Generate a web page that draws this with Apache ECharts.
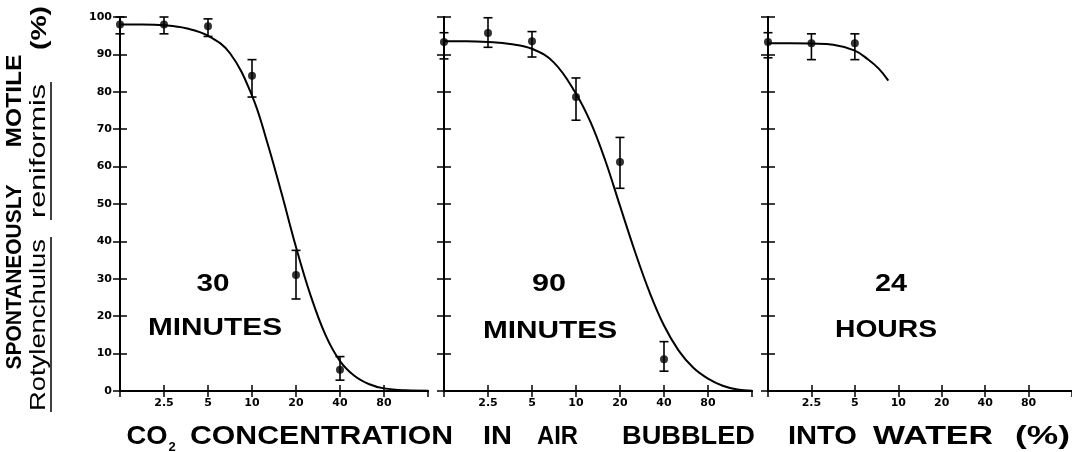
<!DOCTYPE html>
<html>
<head>
<meta charset="utf-8">
<script src="https://cdn.jsdelivr.net/npm/echarts@6/dist/echarts.min.js"></script>
<style>html,body{margin:0;padding:0;background:#fff}#c{width:1072px;height:452px}</style>
</head>
<body>
<div id="c"></div>
<script>
// ---- data (CO2 concentration %, motile %) ----
const tickValues = [2.5, 5, 10, 20, 40, 80];
const tickLabels = ['2.5', '5', '10', '20', '40', '80'];
const yTicks = [0, 10, 20, 30, 40, 50, 60, 70, 80, 90, 100];
const panelLabels = [['30', 'MINUTES'], ['90', 'MINUTES'], ['24', 'HOURS']];

// 30 minutes
const conc30 = [1.25, 2.5, 5, 10, 20, 40];
const mean30 = [98, 98, 97.5, 84.3, 31, 5.7];
const low30  = [95.5, 95.5, 94.8, 78.6, 24.6, 2.9];
const high30 = [100, 100, 99.5, 88.6, 37.6, 9.2];
const fitX30 = [1.25, 1.77, 2.5, 3.54, 5, 7.07, 10, 12.6, 15.9, 20, 25.2, 31.8, 40, 50.4, 63.5, 80, 113, 160];
const fitY30 = [98, 98, 97.8, 97, 95, 90.3, 79, 67, 53, 38.5, 25.5, 15, 8, 4, 1.8, 0.7, 0.2, 0.1];

// 90 minutes
const conc90 = [1.25, 2.5, 5, 10, 20, 40];
const mean90 = [93.3, 95.7, 93.5, 78.6, 61.2, 8.5];
const low90  = [88.8, 91.9, 89.3, 72.4, 54.2, 5.3];
const high90 = [95.8, 99.8, 96.1, 83.7, 67.8, 13.2];
const fitX90 = [1.25, 1.77, 2.5, 3.54, 5, 7.07, 10, 12.6, 15.9, 20, 25.2, 31.8, 40, 50.4, 63.5, 80, 100.8, 127, 160];
const fitY90 = [93.5, 93.5, 93.3, 92.8, 91.5, 87.8, 79.5, 71.8, 61.5, 49.5, 37.5, 26.5, 17.5, 10.8, 6.2, 3.3, 1.4, 0.4, 0.1];

// 24 hours
const conc24 = [1.25, 2.5, 5];
const mean24 = [93.3, 93, 93];
const low24  = [89.1, 88.6, 88.6];
const high24 = [95.8, 95.5, 95.5];
const fitX24 = [1.25, 1.77, 2.5, 3.54, 5, 6.15, 7.32, 8.53];
const fitY24 = [93, 93, 92.9, 92.6, 91, 88.7, 86.2, 83];

// ---- build ----
const BASE = 1.25;
const toU = c => Math.log2(c / BASE);
const panels = [
  {conc: conc30, mean: mean30, low: low30, high: high30, fx: fitX30, fy: fitY30},
  {conc: conc90, mean: mean90, low: low90, high: high90, fx: fitX90, fy: fitY90},
  {conc: conc24, mean: mean24, low: low24, high: high24, fx: fitX24, fy: fitY24}
];
const lefts = [120, 444, 768];
const TOP = 17, H = 374, W = 308;
const F = '"Liberation Sans", Arial, sans-serif';
const FL = '"DejaVu Sans", sans-serif';

const tickU = tickValues.map(toU);
function xLabel(v) {
  for (let i = 0; i < tickU.length; i++) if (Math.abs(tickU[i] - v) < 1e-6) return tickLabels[i];
  return '';
}

const grids = [], xAxes = [], yAxes = [], series = [];
lefts.forEach((l, i) => {
  grids.push({left: l, top: TOP, width: W, height: H});
  const xBase = {type: 'value', gridIndex: i, min: 0, max: toU(160), interval: 1,
    axisLine: {show: true, lineStyle: {color: '#000', width: 2}},
    axisTick: {show: true, inside: true, length: 6, lineStyle: {color: '#000', width: 1.5}},
    splitLine: {show: false}};
  xAxes.push(Object.assign({}, xBase, {position: 'bottom',
    axisLabel: {formatter: xLabel, color: '#000', fontSize: 11, fontWeight: 'bold', fontFamily: FL, margin: 7,
      showMinLabel: false, showMaxLabel: false}}));
  xAxes.push(Object.assign({}, xBase, {position: 'top', axisLabel: {show: false}}));
  const yBase = {type: 'value', gridIndex: i, min: 0, max: 100, interval: 10,
    axisLine: {show: true, lineStyle: {color: '#000', width: 2}},
    axisTick: {show: true, inside: true, length: 7, lineStyle: {color: '#000', width: 1.5}},
    splitLine: {show: false}};
  yAxes.push(Object.assign({}, yBase, {position: 'left',
    axisLabel: {show: i === 0, color: '#000', fontSize: 11, fontWeight: 'bold', fontFamily: FL, margin: 8,
      formatter: v => yTicks.includes(v) ? String(v) : ''}}));
  yAxes.push(Object.assign({}, yBase, {position: 'right', axisLabel: {show: false}}));

  const p = panels[i];
  series.push({type: 'line', xAxisIndex: 2 * i, yAxisIndex: 2 * i, smooth: 0.4, symbol: 'none',
    lineStyle: {color: '#000', width: 2}, clip: false,
    data: p.fx.map((c, k) => [toU(c), p.fy[k]])});
  series.push({type: 'custom', xAxisIndex: 2 * i, yAxisIndex: 2 * i, clip: false,
    data: p.conc.map((c, k) => [toU(c), p.low[k], p.high[k]]),
    encode: {x: 0, y: [1, 2]},
    renderItem: (params, api) => {
      const a = api.coord([api.value(0), api.value(1)]);
      const b = api.coord([api.value(0), api.value(2)]);
      const hw = 4.5, st = {stroke: '#000', lineWidth: 1.6};
      return {type: 'group', children: [
        {type: 'line', shape: {x1: a[0], y1: a[1], x2: b[0], y2: b[1]}, style: st},
        {type: 'line', shape: {x1: a[0] - hw, y1: a[1], x2: a[0] + hw, y2: a[1]}, style: st},
        {type: 'line', shape: {x1: b[0] - hw, y1: b[1], x2: b[0] + hw, y2: b[1]}, style: st}
      ]};
    }});
  series.push({type: 'scatter', xAxisIndex: 2 * i, yAxisIndex: 2 * i, symbol: 'circle', symbolSize: 8,
    itemStyle: {color: '#000'}, clip: false, z: 5,
    data: p.conc.map((c, k) => [toU(c), p.mean[k]])});
});

// text helpers
const mctx = document.createElement('canvas').getContext('2d');
function fitText(text, cx, cy, targetW, size, weight, family, rot) {
  mctx.font = `${weight} ${size}px ${family}`;
  const w = mctx.measureText(text).width;
  return {type: 'text', x: cx, y: cy, rotation: rot || 0, scaleX: targetW / w,
    style: {text: text, fill: '#000', fontSize: size, fontWeight: weight, fontFamily: family,
      align: 'center', verticalAlign: 'middle'}};
}
const R = Math.PI / 2;
const graphics = [
  // panel labels
  fitText(panelLabels[0][0], 213, 284, 33, 24, 'bold', F),
  fitText(panelLabels[0][1], 215, 328, 134, 24, 'bold', F),
  fitText(panelLabels[1][0], 549, 284, 34, 24, 'bold', F),
  fitText(panelLabels[1][1], 550, 331, 134, 24, 'bold', F),
  fitText(panelLabels[2][0], 891, 284, 32, 24, 'bold', F),
  fitText(panelLabels[2][1], 886, 330, 102, 24, 'bold', F),
  // x title
  fitText('CO', 147, 437, 41, 25, 'bold', F),
  {type: 'text', x: 172, y: 447, style: {text: '2', fill: '#000', fontSize: 13, fontWeight: 'bold', fontFamily: F, align: 'center', verticalAlign: 'middle'}},
  fitText('CONCENTRATION', 321.5, 437, 263, 25, 'bold', F),
  fitText('IN', 497.5, 437, 29, 25, 'bold', F),
  fitText('AIR', 557.5, 437, 41, 25, 'bold', F),
  fitText('BUBBLED', 688.5, 437, 133, 25, 'bold', F),
  fitText('INTO', 822.5, 437, 69, 25, 'bold', F),
  fitText('WATER', 933, 437, 120, 25, 'bold', F),
  fitText('(%)', 1042.5, 437, 55, 25, 'bold', F),
  // y title
  fitText('SPONTANEOUSLY', 15, 277, 185, 22, 'bold', F, R),
  fitText('MOTILE', 15, 101, 93, 22, 'bold', F, R),
  fitText('Rotylenchulus', 39, 325, 172, 22, 'normal', F, R),
  fitText('reniformis', 39, 151, 134, 22, 'normal', F, R),
  fitText('(%)', 40, 28, 44, 22, 'bold', F, R),
  {type: 'line', shape: {x1: 51, y1: 237, x2: 51, y2: 412}, style: {stroke: '#000', lineWidth: 1.5}},
  {type: 'line', shape: {x1: 51, y1: 82, x2: 51, y2: 220}, style: {stroke: '#000', lineWidth: 1.5}}
];

const chart = echarts.init(document.getElementById('c'), null, {renderer: 'canvas'});
chart.setOption({
  animation: false,
  backgroundColor: '#fff',
  grid: grids, xAxis: xAxes, yAxis: yAxes, series: series,
  graphic: graphics
});
</script>
</body>
</html>
